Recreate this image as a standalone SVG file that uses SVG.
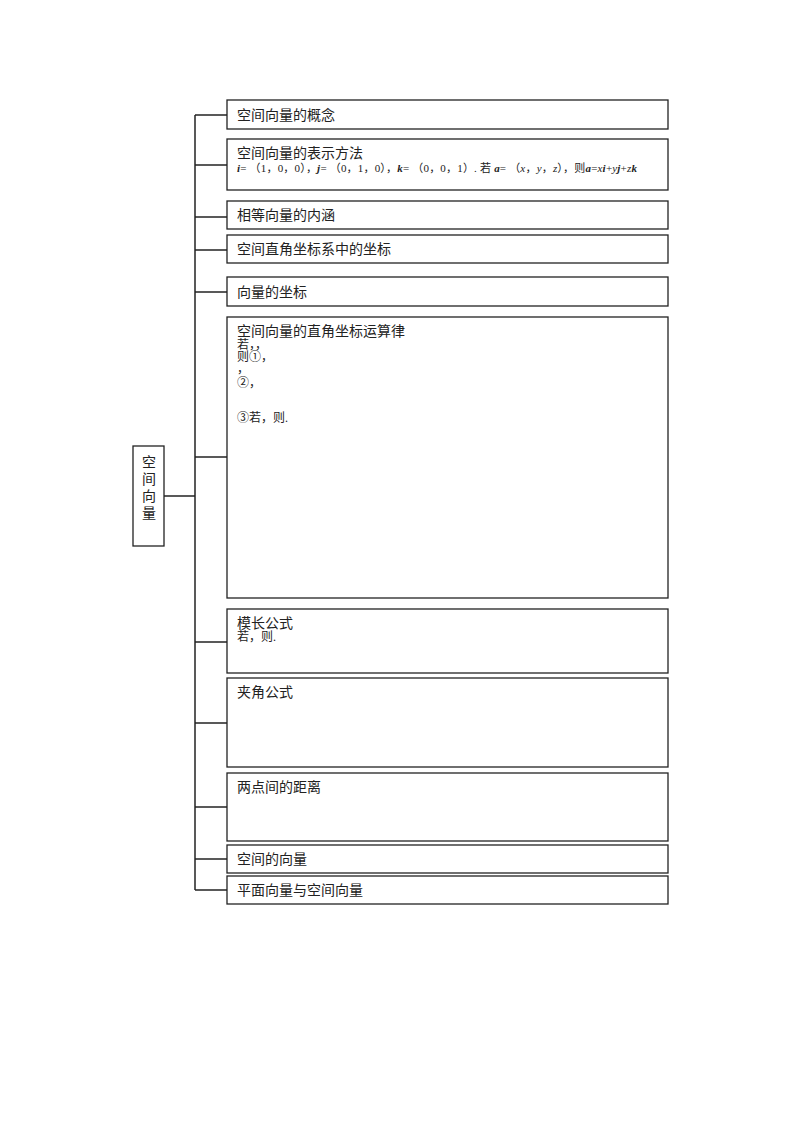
<svg xmlns="http://www.w3.org/2000/svg" width="800" height="1132" viewBox="0 0 800 1132">
<style>
.box{fill:#fff;stroke:#222;stroke-width:1.3}
.ln{stroke:#222;stroke-width:1.5;fill:none}
.t{font-family:"Liberation Serif","Noto Sans CJK SC",serif;font-size:14px;fill:#222}
.s{font-family:"Liberation Serif","Noto Sans CJK SC",serif;font-size:12px;fill:#222}
.m{font-family:"Liberation Serif","Noto Sans CJK SC",serif;font-size:11px;fill:#222}
.b{font-weight:bold;font-style:italic}
.i{font-style:italic}
</style>
<rect width="800" height="1132" fill="#fff"/>
<g id="connectors">
<line class="ln" x1="195" y1="115" x2="195" y2="890"/>
<line class="ln" x1="164" y1="496" x2="195" y2="496"/>
<line class="ln" x1="195" y1="115" x2="227" y2="115"/>
<line class="ln" x1="195" y1="165" x2="227" y2="165"/>
<line class="ln" x1="195" y1="217" x2="227" y2="217"/>
<line class="ln" x1="195" y1="250" x2="227" y2="250"/>
<line class="ln" x1="195" y1="292" x2="227" y2="292"/>
<line class="ln" x1="195" y1="457" x2="227" y2="457"/>
<line class="ln" x1="195" y1="642" x2="227" y2="642"/>
<line class="ln" x1="195" y1="723" x2="227" y2="723"/>
<line class="ln" x1="195" y1="807" x2="227" y2="807"/>
<line class="ln" x1="195" y1="859" x2="227" y2="859"/>
<line class="ln" x1="195" y1="890" x2="227" y2="890"/>
</g>
<g id="root">
<rect class="box" x="133" y="446" width="31" height="100"/>
<text class="t" x="149" y="467" text-anchor="middle">空</text>
<text class="t" x="149" y="484" text-anchor="middle">间</text>
<text class="t" x="149" y="501" text-anchor="middle">向</text>
<text class="t" x="149" y="518" text-anchor="middle">量</text>
</g>
<g id="n1">
<rect class="box" x="227" y="100" width="441" height="29"/>
<text class="t" x="237" y="120">空间向量的概念</text>
</g>
<g id="n2">
<rect class="box" x="227" y="139" width="441" height="51"/>
<text class="t" x="237" y="158">空间向量的表示方法</text>
<text class="m" x="237" y="172" textLength="400" lengthAdjust="spacing"><tspan class="b">i</tspan>= （1，0，0），<tspan class="b">j</tspan>= （0，1，0），<tspan class="b">k</tspan>= （0，0，1）. 若 <tspan class="b">a</tspan>= （<tspan class="i">x</tspan>，<tspan class="i">y</tspan>，<tspan class="i">z</tspan>），则<tspan class="b">a</tspan>=<tspan class="i">x</tspan><tspan class="b">i</tspan>+<tspan class="i">y</tspan><tspan class="b">j</tspan>+<tspan class="i">z</tspan><tspan class="b">k</tspan></text>
</g>
<g id="n3">
<rect class="box" x="227" y="201" width="441" height="28"/>
<text class="t" x="237" y="220">相等向量的内涵</text>
</g>
<g id="n4">
<rect class="box" x="227" y="235" width="441" height="28"/>
<text class="t" x="237" y="254">空间直角坐标系中的坐标</text>
</g>
<g id="n5">
<rect class="box" x="227" y="277" width="441" height="29"/>
<text class="t" x="237" y="297">向量的坐标</text>
</g>
<g id="n6">
<rect class="box" x="227" y="317" width="441" height="281"/>
<text class="t" x="237" y="336">空间向量的直角坐标运算律</text>
<text class="s" x="237" y="349">若，，</text>
<text class="s" x="237" y="361">则①，</text>
<text class="s" x="237" y="373">，</text>
<text class="s" x="237" y="387">②，</text>
<text class="s" x="237" y="422">③若，则.</text>
</g>
<g id="n7">
<rect class="box" x="227" y="609" width="441" height="64"/>
<text class="t" x="237" y="628">模长公式</text>
<text class="s" x="237" y="641">若，则.</text>
</g>
<g id="n8">
<rect class="box" x="227" y="678" width="441" height="89"/>
<text class="t" x="237" y="697">夹角公式</text>
</g>
<g id="n9">
<rect class="box" x="227" y="773" width="441" height="68"/>
<text class="t" x="237" y="792">两点间的距离</text>
</g>
<g id="n10">
<rect class="box" x="227" y="845" width="441" height="28"/>
<text class="t" x="237" y="864">空间的向量</text>
</g>
<g id="n11">
<rect class="box" x="227" y="876" width="441" height="28"/>
<text class="t" x="237" y="895">平面向量与空间向量</text>
</g>
</svg>
